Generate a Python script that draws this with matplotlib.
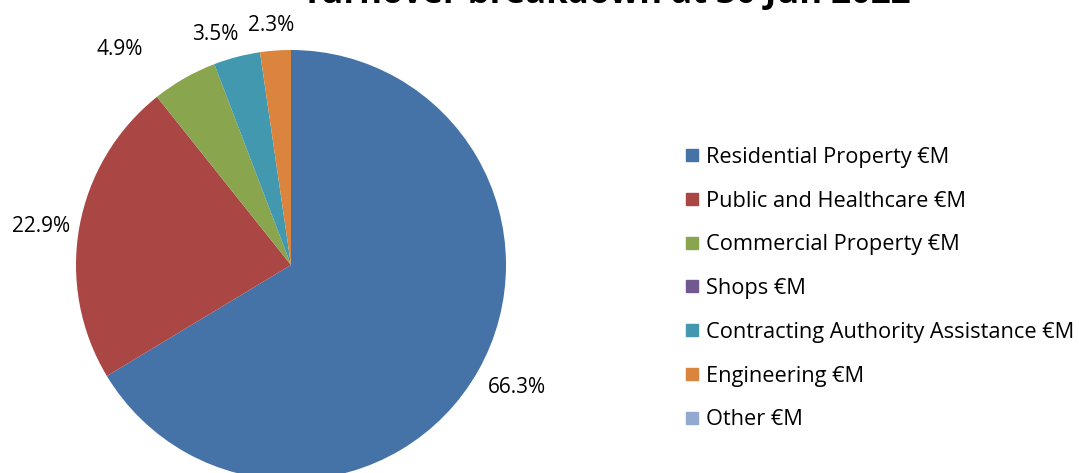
import numpy as np
import matplotlib
matplotlib.use("Agg")
import matplotlib.pyplot as plt
from matplotlib.lines import Line2D

plt.rcParams['font.family'] = ['Open Sans', 'DejaVu Sans']

# ---- data ----
categories = ["Residential Property €M", "Public and Healthcare €M", "Commercial Property €M",
              "Shops €M", "Contracting Authority Assistance €M", "Engineering €M", "Other €M"]
shares = [66.3, 22.9, 4.9, 0.0, 3.5, 2.3, 0.0]
title = "Turnover breakdown at 30 Jun 2022"

# ---- style ----
colors = ["#4572A7", "#AA4643", "#89A54E", "#71588F", "#4198AF", "#DB843D", "#93A9CF"]
label_dist = [1.19, 1.18, 1.29, 1.2, 1.14, 1.13, 1.2]
label_shift = [1.4, 0.9, 8.5, 0.0, 3.5, 0.5, 0.0]

W, H = 1079, 473
fig = plt.figure(figsize=(W / 100, H / 100), dpi=100)

cx, cy, r = 291, 265, 215
ax = fig.add_axes([(cx - r) / W, (H - cy - r) / H, 2 * r / W, 2 * r / H])
wedges, _ = ax.pie(shares, colors=colors, startangle=90, counterclock=False,
                   wedgeprops=dict(linewidth=0))
ax.set_xlim(-1, 1)
ax.set_ylim(-1, 1)
ax.set_aspect('equal')
ax.axis('off')

total = sum(shares)
cum = 0.0
for i, v in enumerate(shares):
    if v > 0:
        mid = 90 - (cum + v / 2) / total * 360 + label_shift[i]
        t = np.deg2rad(mid)
        d = label_dist[i]
        ax.text(d * np.cos(t), d * np.sin(t) - 0.012, f"{v:.1f}%", ha='center', va='center',
                fontsize=15, color='black', clip_on=False)
    cum += v

fig.text(606 / W, 1 - 3 / H, title, ha='center', va='baseline', fontsize=25,
         fontweight='bold', color='black')

handles = [Line2D([], [], marker='s', linestyle='none', markersize=8,
                  markerfacecolor=c, markeredgecolor=c) for c in colors]
fig.legend(handles, categories, loc='upper left',
           bbox_to_anchor=(675 / W, 1 - 138 / H), frameon=False, fontsize=15.7,
           handlelength=0.75, handletextpad=0.25, labelspacing=1.045, borderaxespad=0)

fig.savefig("out.png", dpi=100)
